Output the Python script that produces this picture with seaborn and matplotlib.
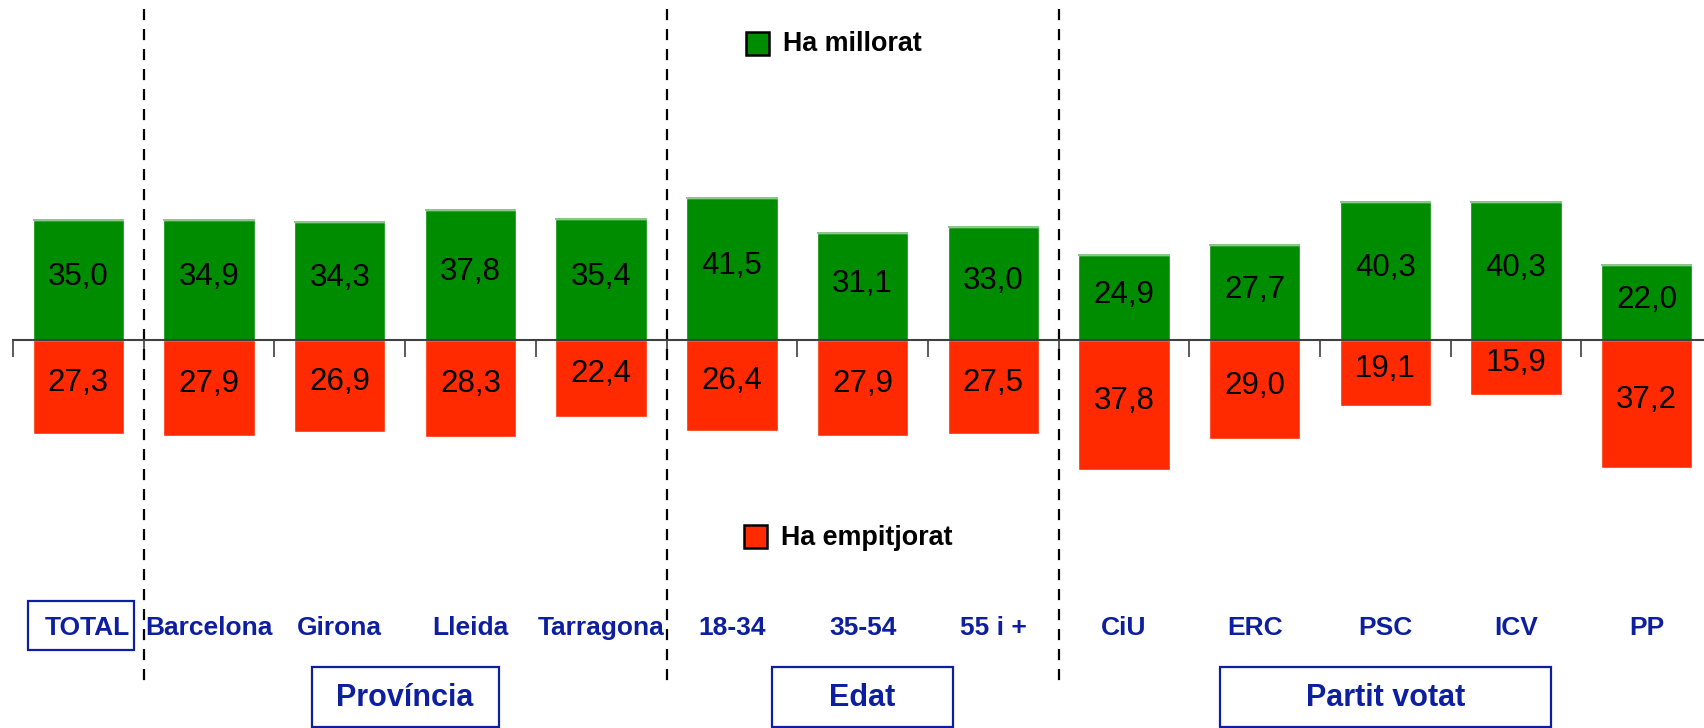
import matplotlib
matplotlib.use("Agg")
import matplotlib.pyplot as plt
import seaborn as sns
import pandas as pd
import numpy as np
from matplotlib.patches import Rectangle

# ---------------- data ----------------
categories = ["TOTAL", "Barcelona", "Girona", "Lleida", "Tarragona",
              "18-34", "35-54", "55 i +",
              "CiU", "ERC", "PSC", "ICV", "PP"]
improved = [35.0, 34.9, 34.3, 37.8, 35.4, 41.5, 31.1, 33.0, 24.9, 27.7, 40.3, 40.3, 22.0]
worsened = [27.3, 27.9, 26.9, 28.3, 22.4, 26.4, 27.9, 27.5, 37.8, 29.0, 19.1, 15.9, 37.2]
groups = ["Província", "Edat", "Partit votat"]
group_members = [[1, 2, 3, 4], [5, 6, 7], [8, 9, 10, 11, 12]]
legend_labels = ["Ha millorat", "Ha empitjorat"]

# ---------------- style ----------------
GREEN = "#008C00"
GREEN_TOP = "#7CC47C"
RED = "#FF2A00"
BLUE = "#0D1E9E"
FONT = ["Liberation Sans", "DejaVu Sans"]

sns.set_style("white")
plt.rcParams["font.family"] = FONT

W, H = 1704, 728
fig = plt.figure(figsize=(W / 100, H / 100), dpi=100)

PX_PER_UNIT = 3.43
AXIS_Y = 340
CAT_W = 130.7
LEFT = 13
ax = fig.add_axes([LEFT / W, 0, len(categories) * CAT_W / W, 1])
ax.set_facecolor("none")

df = pd.DataFrame({"cat": categories, "up": improved,
                   "down": [-v for v in worsened]})
sns.barplot(data=df, x="cat", y="up", color=GREEN, saturation=1,
            width=0.7, errorbar=None, ax=ax, order=categories)
sns.barplot(data=df, x="cat", y="down", color=RED, saturation=1,
            width=0.7, errorbar=None, ax=ax, order=categories)

n = len(categories)
xs = np.arange(n)
ax.hlines(improved, xs - 0.35, xs + 0.35, color=GREEN_TOP, lw=1.3, zorder=3)

ax.set_xlim(-0.5, n - 0.5)
ax.set_ylim(-(H - AXIS_Y) / PX_PER_UNIT, AXIS_Y / PX_PER_UNIT)


def py(y_px):
    return (AXIS_Y - y_px) / PX_PER_UNIT


# value labels
for i, (u, d) in enumerate(zip(improved, worsened)):
    ax.text(i, u / 2 + 0.8, f"{u:.1f}".replace(".", ","), ha="center", va="center",
            fontsize=22.5, color="black", zorder=4)
    ax.text(i, -d / 2 + 1.2, f"{d:.1f}".replace(".", ","), ha="center", va="center",
            fontsize=22.5, color="black", zorder=4)

# axis line + ticks
for s in ["top", "right", "left"]:
    ax.spines[s].set_visible(False)
ax.spines["bottom"].set_position(("data", 0))
ax.spines["bottom"].set_color("#404040")
ax.spines["bottom"].set_linewidth(1.5)
ax.spines["bottom"].set_zorder(5)
ax.set_xticks(np.arange(-0.5, n, 1.0))
ax.set_xticklabels([])
ax.tick_params(axis="x", direction="out", length=12, width=1.2,
               color="#404040", bottom=True)
ax.set_yticks([])
ax.set_xlabel("")
ax.set_ylabel("")

# dashed separators
for b in [0.5, 4.5, 7.5]:
    ax.plot([b, b], [py(9), py(681)], color="black", lw=1.6,
            linestyle=(0, (5, 4)), zorder=2, clip_on=False)

# category labels
label_y = py(628)
for i, c in enumerate(categories):
    dx = 0.07 if i == 0 else 0.0
    ax.text(i + dx, label_y, c, ha="center", va="center", fontsize=19,
            fontweight="bold", color=BLUE)

# TOTAL box
ax.add_patch(Rectangle((-0.385, py(650)), 0.811, py(601) - py(650),
                       fill=False, edgecolor=BLUE, lw=1.6, clip_on=False))

# group boxes
box_widths = [1.43, 1.39, 2.53]
for g, members, bw in zip(groups, group_members, box_widths):
    cx = (members[0] + members[-1]) / 2
    ax.add_patch(Rectangle((cx - bw / 2, py(727)), bw, py(667) - py(727),
                           fill=False, edgecolor=BLUE, lw=1.6, clip_on=False))
    ax.text(cx, py(698), g, ha="center", va="center", fontsize=22,
            fontweight="bold", color=BLUE)

# legend entries (figure pixel positions)
def fx(x):
    return x / W


def fy(y):
    return 1 - y / H


for lab, col, (sx, sy, tx, ty) in zip(legend_labels, [GREEN, RED],
                                       [(746, 32, 783, 44), (744, 525, 781, 538)]):
    fig.patches.append(Rectangle((fx(sx), fy(sy + 23)), 23 / W, 23 / H,
                                 facecolor=col, edgecolor="black", lw=1.8,
                                 transform=fig.transFigure, figure=fig))
    fig.text(fx(tx), fy(ty), lab, ha="left", va="center", fontsize=19.4,
             fontweight="bold", color="black")

fig.savefig("out.png", dpi=100)
